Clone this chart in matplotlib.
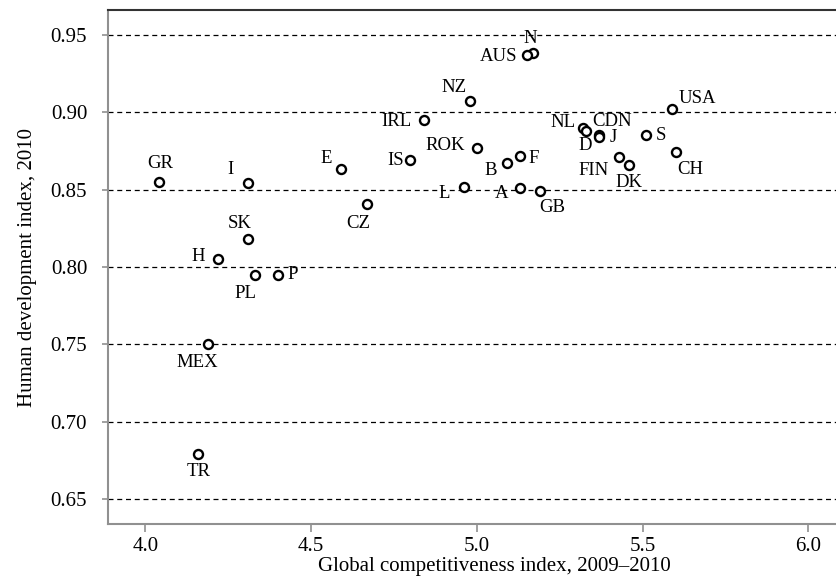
import matplotlib.pyplot as plt

plt.rcParams['font.family'] = ['Liberation Serif', 'DejaVu Serif']

# country codes, GCI 2009-2010 (x), HDI 2010 (y)
countries = ['GR', 'I', 'E', 'IS', 'CZ', 'SK', 'H', 'PL', 'P', 'IRL', 'MEX', 'TR',
             'N', 'AUS', 'NZ', 'USA', 'NL', 'CDN', 'D', 'J', 'S', 'CH', 'FIN', 'DK',
             'ROK', 'F', 'B', 'L', 'A', 'GB']
gci = [4.04, 4.31, 4.59, 4.80, 4.67, 4.31, 4.22, 4.33, 4.40, 4.84, 4.19, 4.16,
       5.17, 5.15, 4.98, 5.59, 5.32, 5.33, 5.37, 5.37, 5.51, 5.60, 5.43, 5.46,
       5.00, 5.13, 5.09, 4.96, 5.13, 5.19]
hdi = [0.855, 0.854, 0.863, 0.869, 0.841, 0.818, 0.805, 0.795, 0.795, 0.895, 0.750, 0.679,
       0.938, 0.937, 0.907, 0.902, 0.890, 0.888, 0.885, 0.884, 0.885, 0.874, 0.871, 0.866,
       0.877, 0.872, 0.867, 0.852, 0.851, 0.849]

# label placement: offset in pixels (dx, dy down) and anchor
label_pos = {
    'GR': (2, -18, 'center'), 'I': (-18, -14, 'center'), 'E': (-15, -11, 'center'),
    'IS': (-7, 0, 'right'), 'CZ': (-9, 20, 'center'), 'SK': (-8, -16, 'center'),
    'H': (-13, -3, 'right'), 'PL': (-9, 19, 'center'), 'P': (10, 0, 'left'),
    'IRL': (-12, 2, 'right'), 'MEX': (-11, 18, 'center'), 'TR': (0, 17, 'center'),
    'N': (-3, -15, 'center'), 'AUS': (-9, 2, 'right'), 'NZ': (-16, -14, 'center'),
    'USA': (6, -11, 'left'), 'NL': (-7, -5, 'right'), 'CDN': (6, -9, 'left'),
    'D': (-14, 10, 'center'), 'J': (10, 1, 'left'), 'S': (10, 0, 'left'),
    'CH': (15, 17, 'center'), 'FIN': (-26, 13, 'center'), 'DK': (0, 18, 'center'),
    'ROK': (-12, -2, 'right'), 'F': (9, 3, 'left'), 'B': (-16, 7, 'center'),
    'L': (-19, 7, 'center'), 'A': (-18, 5, 'center'), 'GB': (12, 16, 'center'),
}

fig = plt.figure(figsize=(8.37, 5.87), dpi=100)
ax = fig.add_axes([0.129, 0.1073, 0.9223, 0.8756])

ax.set_yticks([0.65, 0.70, 0.75, 0.80, 0.85, 0.90, 0.95])
ax.set_xticks([4.0, 4.5, 5.0, 5.5, 6.0])
ax.set_yticklabels(['0.65', '0.70', '0.75', '0.80', '0.85', '0.90', '0.95'])
ax.set_xticklabels(['4.0', '4.5', '5.0', '5.5', '6.0'])
for yv in ax.get_yticks():
    ax.axhline(yv, color='black', lw=0.9, dashes=(4, 3), zorder=1)

ax.plot(gci, hdi, 'o', ms=6.5, mfc='white', mec='black', mew=1.7, zorder=3)

for name, xv, yv in zip(countries, gci, hdi):
    dx, dy, ha = label_pos[name]
    ax.annotate(name, (xv, yv), xytext=(dx * 0.72, -dy * 0.72), textcoords='offset points',
                ha=ha, va='center', fontsize=13.5, zorder=4)

ax.set_xlim(3.8875, 6.216)
ax.set_ylim(0.634, 0.966)

ax.spines['right'].set_visible(False)
ax.spines['top'].set_color('#333333')
ax.spines['top'].set_linewidth(1.5)
for s in ('left', 'bottom'):
    ax.spines[s].set_color('#909090')
    ax.spines[s].set_linewidth(1.5)
ax.tick_params(width=1.2, color='#909090', labelsize=15)
ax.tick_params(axis='x', length=6, pad=3)
ax.tick_params(axis='y', length=4, pad=11)

ax.set_xlabel('Global competitiveness index, 2009–2010', fontsize=15, labelpad=1)
ax.set_ylabel('Human development index, 2010', fontsize=15, labelpad=10)

fig.savefig('out.png', dpi=100)
